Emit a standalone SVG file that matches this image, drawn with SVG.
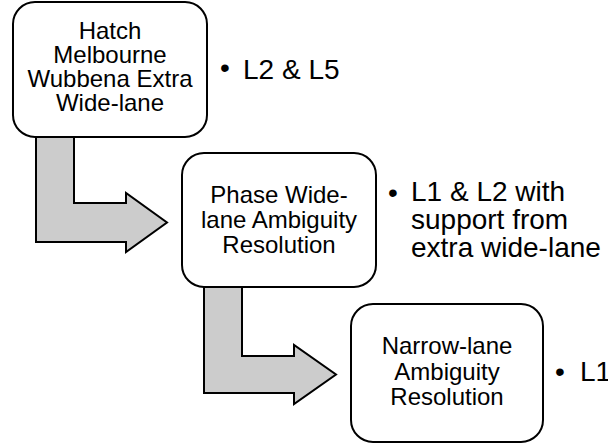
<svg xmlns="http://www.w3.org/2000/svg" width="608" height="445" viewBox="0 0 608 445">
  <style>
    .box { fill: #ffffff; stroke: #000000; stroke-width: 2; }
    .arrow { fill: #cccccc; stroke: #000000; stroke-width: 2; stroke-linejoin: miter; }
    .label { font-family: "Liberation Sans", Arial, sans-serif; font-size: 24px; fill: #000000; text-anchor: middle; }
    .note { font-family: "Liberation Sans", Arial, sans-serif; font-size: 28px; fill: #000000; }
  </style>
  <rect width="608" height="445" fill="#ffffff"/>

  <!-- block arrows linking the stages -->
  <g id="connectors">
    <path class="arrow" d="M36,136 V242 H126 V252 L167,222.5 L126,193 V203 H74 V136 Z"/>
    <path class="arrow" d="M204,286 V393 H294 V404 L336,374.5 L294,345 V356 H242 V286 Z"/>
  </g>

  <g id="stage-extra-wide-lane">
    <rect class="box" x="13" y="2" width="194" height="135" rx="22" ry="22"/>
    <text class="label" x="110" y="39">Hatch</text>
    <text class="label" x="110" y="63">Melbourne</text>
    <text class="label" x="110" y="87">Wubbena Extra</text>
    <text class="label" x="110" y="111">Wide-lane</text>
  </g>

  <g id="stage-wide-lane">
    <rect class="box" x="182" y="153" width="194" height="134" rx="22" ry="22"/>
    <text class="label" x="279" y="203">Phase Wide-</text>
    <text class="label" x="279" y="228">lane Ambiguity</text>
    <text class="label" x="279" y="253">Resolution</text>
  </g>

  <g id="stage-narrow-lane">
    <rect class="box" x="351" y="304" width="192" height="138" rx="22" ry="22"/>
    <text class="label" x="447" y="354">Narrow-lane</text>
    <text class="label" x="447" y="380">Ambiguity</text>
    <text class="label" x="447" y="405">Resolution</text>
  </g>

  <!-- signal notes beside each stage -->
  <g id="note-extra-wide-lane">
    <text class="note" x="220" y="77">•</text>
    <text class="note" x="243" y="79">L2 &amp; L5</text>
  </g>
  <g id="note-wide-lane">
    <text class="note" x="388" y="202">•</text>
    <text class="note" x="411" y="201">L1 &amp; L2 with</text>
    <text class="note" x="411" y="229">support from</text>
    <text class="note" x="411" y="257">extra wide-lane</text>
  </g>
  <g id="note-narrow-lane">
    <text class="note" x="555" y="381">•</text>
    <text class="note" x="580" y="381">L1</text>
  </g>
</svg>
